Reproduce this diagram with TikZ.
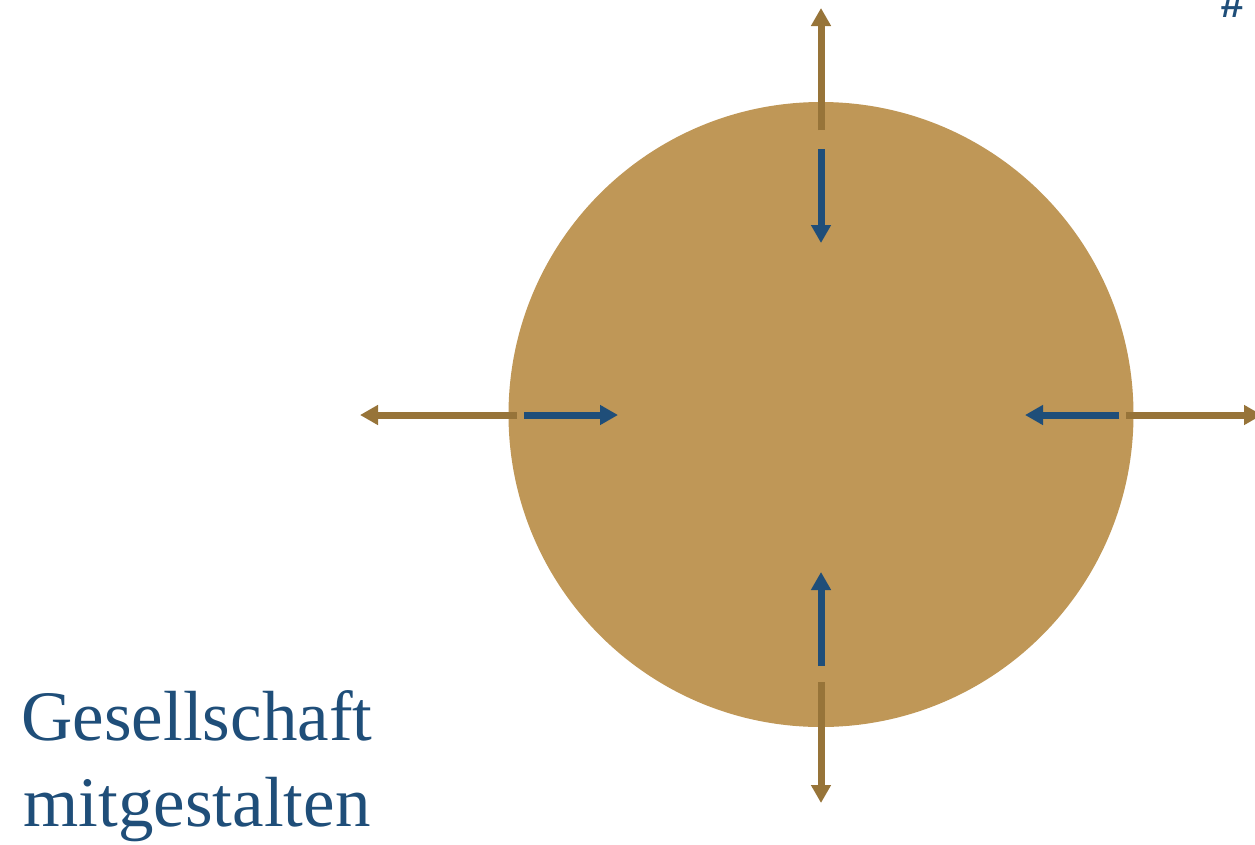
\documentclass[tikz,border=0pt]{standalone}
\usepackage{fontspec}
\setmainfont{Liberation Serif}
\setsansfont{Liberation Sans}
\usetikzlibrary{arrows.meta}
\definecolor{goldfill}{HTML}{BF9757}
\definecolor{goldarrow}{HTML}{977439}
\definecolor{navy}{HTML}{1F4E79}
\tikzset{
  outarrow/.style={draw=goldarrow, line width=7pt, -{Triangle[length=18pt,width=19pt]}},
  inarrow/.style={draw=navy, line width=7pt, -{Triangle[length=18pt,width=19pt]}},
}
\begin{document}
\begin{tikzpicture}[x=1pt,y=-1pt]
\useasboundingbox (0,0) rectangle (1255,844);
\node[circle, fill=goldfill, minimum size=625pt, inner sep=0pt] (c) at (821,414.5) {};
% coordinates
\coordinate (tb0) at (821,130); \coordinate (tb1) at (821,8);
\coordinate (ti0) at (821,149); \coordinate (ti1) at (821,243);
\coordinate (lb0) at (517,415); \coordinate (lb1) at (360,415);
\coordinate (li0) at (524,415); \coordinate (li1) at (618,415);
\coordinate (rb0) at (1126,415); \coordinate (rb1) at (1262,415);
\coordinate (ri0) at (1119,415); \coordinate (ri1) at (1025,415);
\coordinate (bb0) at (821,682); \coordinate (bb1) at (821,803);
\coordinate (bi0) at (821,666); \coordinate (bi1) at (821,572);
\draw[outarrow] (tb0) -- (tb1);
\draw[inarrow] (ti0) -- (ti1);
\draw[outarrow] (lb0) -- (lb1);
\draw[inarrow] (li0) -- (li1);
\draw[outarrow] (rb0) -- (rb1);
\draw[inarrow] (ri0) -- (ri1);
\draw[outarrow] (bb0) -- (bb1);
\draw[inarrow] (bi0) -- (bi1);
\node[text=navy, align=center, font=\fontsize{71}{86}\selectfont, anchor=base, inner sep=0pt] (t) at (197,826) {Gesellschaft\\mitgestalten};
\node[text=navy, font=\sffamily\bfseries\itshape\fontsize{42}{42}\selectfont, anchor=base west, inner sep=0pt] (h) at (1220,17) {\#};
\end{tikzpicture}
\end{document}
